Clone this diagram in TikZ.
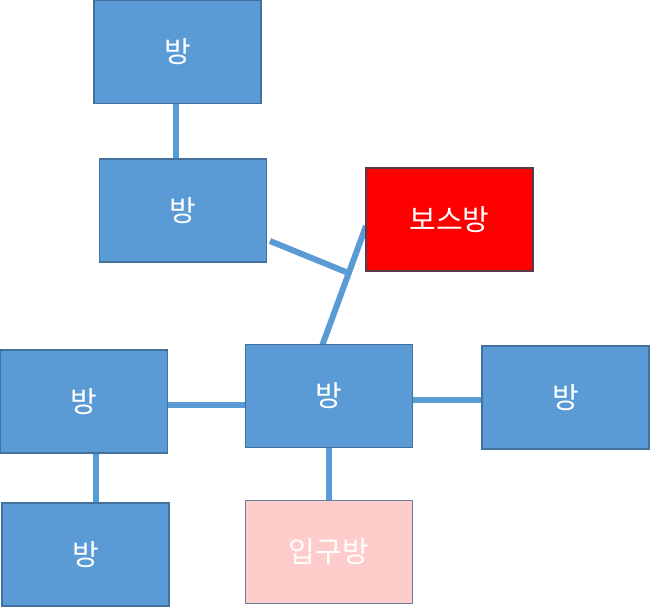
\documentclass[tikz,border=0pt]{standalone}
\usepackage{fontspec}
\newfontfamily\kr{Noto Sans CJK KR}
\definecolor{roomblue}{HTML}{5B9BD5}
\definecolor{roomedge}{HTML}{41719C}
\definecolor{bossred}{HTML}{FF0000}
\definecolor{bossedge}{HTML}{5A3A4A}
\definecolor{entpink}{HTML}{FFCCCC}
\definecolor{entedge}{HTML}{6B7A99}
\tikzset{
  room/.style={draw=roomedge, line width=1.2pt, fill=roomblue, minimum width=167pt, minimum height=103pt, inner sep=0pt, text=white, font=\kr\fontsize{29}{34}\selectfont},
  boss/.style={room, fill=bossred, draw=bossedge},
  entrance/.style={room, fill=entpink, draw=entedge},
  link/.style={draw=roomblue, line width=6pt}
}
\begin{document}
\begin{tikzpicture}[x=1pt,y=-1pt]
\useasboundingbox (0,0) rectangle (650,608);
\fill[white] (0,0) rectangle (650,608);
% links drawn first
\coordinate (j) at (346,272);
\coordinate (s2) at (270,241);
\coordinate (sb) at (366,226);
\coordinate (sc) at (322,346);
\draw[link] (176,102) -- (176,160);
\draw[link] (s2) -- (j);
\draw[link] (sb) -- (sc);
\draw[link] (166,404.5) -- (246,404.5);
\draw[link] (412,399.5) -- (483,399.5);
\draw[link] (329,446) -- (329,501);
\draw[link] (96,452) -- (96,504);
% rooms
\node[room] (r1) at (177.5,52) {방};
\node[room] (r2) at (183,210.5) {방};
\node[boss] (boss) at (449.5,219.5) {보스방};
\node[room] (rl) at (84,401.5) {방};
\node[room] (rc) at (329,396) {방};
\node[room] (rr) at (565.5,397.5) {방};
\node[room] (rb) at (85.5,554.5) {방};
\node[entrance] (ent) at (329,552) {입구방};
\end{tikzpicture}
\end{document}
